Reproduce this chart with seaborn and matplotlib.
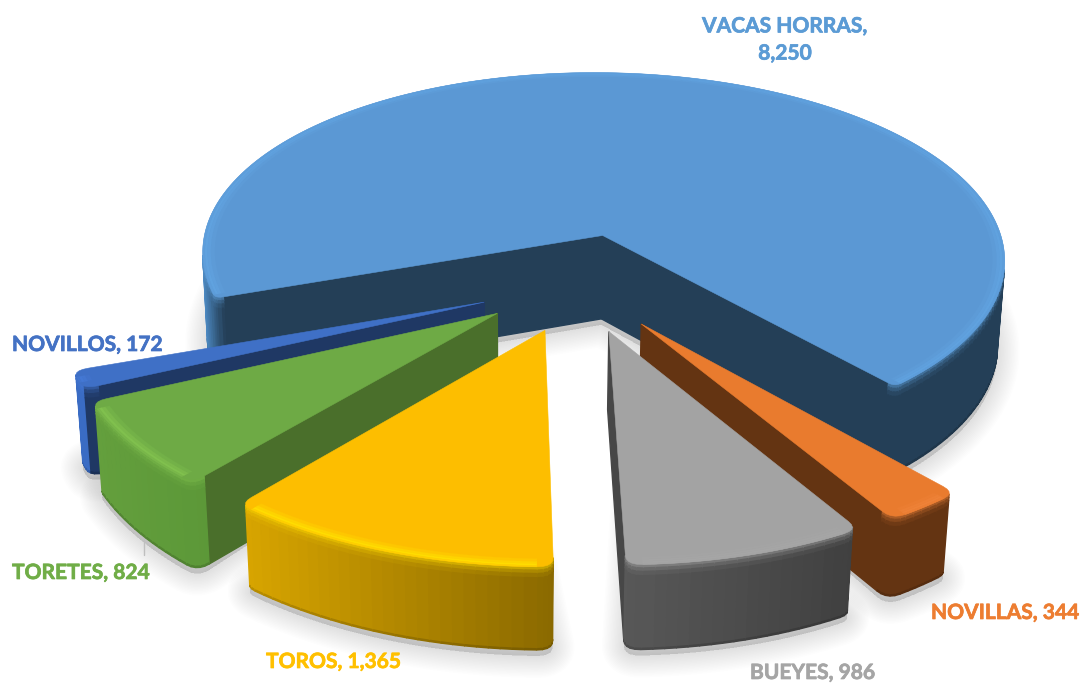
import numpy as np
import pandas as pd
import seaborn as sns
import matplotlib
matplotlib.use("Agg")
import matplotlib.pyplot as plt
import matplotlib.patheffects as pe
from matplotlib.colors import to_rgb
from matplotlib.patches import Polygon

# ---------- data ----------
categories = ["VACAS HORRAS", "NOVILLAS", "BUEYES", "TOROS", "TORETES", "NOVILLOS"]
values = [8250, 344, 986, 1365, 824, 172]
label_colors = ["#5B9BD5", "#ED7D31", "#A5A5A5", "#FFC000", "#70AD47", "#4472C4"]

df = pd.DataFrame({"cat": categories, "val": values})
df["sweep"] = df["val"] / df["val"].sum() * 360.0

# ---------- style ----------
sns.set_theme(style="white")
plt.rcParams["font.family"] = ["Lato", "DejaVu Sans"]
palette = sns.color_palette(label_colors)

STYLE = {
    "VACAS HORRAS": dict(top="#5B98D4", hi="#60A2DF", rad="#243F57", left="#4E8CC6", right="#243F57", sat=0.025, h=0.24, r=1.006, e=0.27, rho=0.02),
    "NOVILLAS": dict(top="#E97B2E", hi="#EE8238", rad="#643412", left="#643412", right="#643412", sat=1, h=0.205, r=1.005, e=0.25, rho=0.035),
    "BUEYES": dict(top="#A3A3A3", hi="#A6A6A6", rad="#474747", left="#585858", right="#404040", sat=1, h=0.215, r=1.008, e=0.25, rho=0.035),
    "TOROS": dict(top="#FDBE00", hi="#FFDC00", rad="#8A6900", left="#D8A500", right="#8A6900", sat=1, h=0.21, r=1.022, e=0.25, rho=0.035),
    "TORETES": dict(top="#6EAA45", hi="#80C04E", rad="#4A6F2B", left="#649F3D", right="#5C9838", sat=1, h=0.23, r=1.016, e=0.25, rho=0.035),
    "NOVILLOS": dict(top="#3F70C6", hi="#4478D4", rad="#1F3864", left="#3A6CC4", right="#1F3864", sat=1, h=0.235, r=1.01, e=0.25, rho=0.035, step=0.42),
}
DRAW_ORDER = ["VACAS HORRAS", "NOVILLAS", "NOVILLOS", "TORETES", "TOROS", "BUEYES"]
START = 199.4
S, C = 0.47, 0.883
DIST, FOCAL = 7.5, 3060.0
PX, X0, Y0 = 520.0, 0.145, 284.0
VACAS_SHIFT = -0.006


def project(X, Y, Z):
    D = DIST + C * Y - S * Z
    return PX + FOCAL * (X + X0) / D, Y0 - FOCAL * (S * Y + C * Z) / D


def mix(a, b, t):
    a, b = np.array(to_rgb(a)), np.array(to_rgb(b))
    return tuple(a + (b - a) * float(np.clip(t, 0, 1)))


def outline(ta, tb, r, rho):
    """World outline of a slice: apex, rounded corner, arc, rounded corner."""
    sweep = np.radians(ta - tb)
    a, b = np.radians(ta), np.radians(tb)
    dl = min(rho / r, sweep * 0.35)
    n = max(6, int(np.degrees(sweep) / 1.5))
    pol = lambda rad, th: (rad * np.cos(th), rad * np.sin(th))
    pts = [(0.0, 0.0)]
    p0, pc, p1 = np.array(pol(r - rho, a)), np.array(pol(r, a)), np.array(pol(r, a - dl))
    for u in np.linspace(0, 1, 6):
        pts.append(tuple((1 - u) ** 2 * p0 + 2 * u * (1 - u) * pc + u ** 2 * p1))
    for th in np.linspace(a - dl, b + dl, n)[1:-1]:
        pts.append(pol(r, th))
    p0, pc, p1 = np.array(pol(r, b + dl)), np.array(pol(r, b)), np.array(pol(r - rho, b))
    for u in np.linspace(0, 1, 6):
        pts.append(tuple((1 - u) ** 2 * p0 + 2 * u * (1 - u) * pc + u ** 2 * p1))
    return np.array(pts), (a - dl, b + dl)


fig = plt.figure(figsize=(10.81, 6.83), dpi=100, facecolor="white")
ax = fig.add_axes([0, 0, 1, 1])
ax.set_xlim(0, 1081)
ax.set_ylim(683, 0)
ax.axis("off")

# geometry per slice
slices = {}
start = START
for cat, sweep in zip(df["cat"], df["sweep"]):
    ta, tb = start, start - sweep
    start = tb
    mid = np.radians((ta + tb) / 2)
    st = STYLE[cat]
    ox, oy = st["e"] * np.cos(mid), st["e"] * np.sin(mid)
    if cat == "VACAS HORRAS":
        ox += VACAS_SHIFT
    pts, arc = outline(ta, tb, st["r"], st["rho"])
    slices[cat] = dict(ox=ox, oy=oy, pts=pts, arc=arc, st=st)

# soft shadow
for cat in DRAW_ORDER:
    g = slices[cat]
    pts = g["pts"].copy()
    pts[0] = pts[len(pts) // 2] * (0.22 if cat != "VACAS HORRAS" else 0.0)
    sx, sy = project(pts[:, 0] + g["ox"], pts[:, 1] + g["oy"], -g["st"]["h"])
    sy = sy + 6
    for lw in np.linspace(1, 44, 16):
        ax.add_patch(Polygon(np.c_[sx, sy], closed=True, facecolor=(0, 0, 0, 0.009),
                             edgecolor=(0, 0, 0, 0.009), lw=lw * 0.72, joinstyle="round", zorder=1))

# leader line, behind the slices
ax.plot([144, 144], [534, 555], color="#BFBFBF", lw=1.0, zorder=1.5)

# slices
z = 2
for cat in DRAW_ORDER:
    g = slices[cat]
    st, pts = g["st"], g["pts"]
    X, Y = pts[:, 0] + g["ox"], pts[:, 1] + g["oy"]
    h = st["h"]
    rho = st["rho"]
    sxt, syt = project(X, Y, 0.0)
    rr = np.hypot(pts[:, 0], pts[:, 1])
    arcx = sxt[rr > st["r"] - rho - 1e-6]
    xmin, xmax = arcx.min(), arcx.max()

    quads = []
    m = len(pts)
    for i in range(m):
        j = (i + 1) % m
        ax_, ay_ = project(X[i], Y[i], 0.0)
        bx_, by_ = project(X[j], Y[j], 0.0)
        cx_, cy_ = project(X[j], Y[j], -h)
        dx_, dy_ = project(X[i], Y[i], -h)
        q = np.array([[ax_, ay_], [bx_, by_], [cx_, cy_], [dx_, dy_]])
        area = 0.5 * np.sum(q[:, 0] * np.roll(q[:, 1], -1) - np.roll(q[:, 0], -1) * q[:, 1])
        if area >= 0:
            continue
        depth = DIST + C * (Y[i] + Y[j]) / 2
        outer = (rr[i] + rr[j]) / 2 > st["r"] - rho * 0.9
        quads.append((depth, i, j, outer))
    quads.sort(key=lambda t: -t[0])

    for depth, i, j, outer in quads:
        xm = (sxt[i] + sxt[j]) / 2
        if outer:
            frac = (xm - xmin) / max(xmax - xmin, 1)
            if "step" in st:
                wall = to_rgb(st["left"] if frac < st["step"] else st["right"])
            else:
                wall = mix(st["left"], st["right"], frac / st["sat"])
            rows = [(0.0, 0.04, 0.5), (0.04, 0.08, 0.25), (0.08, 0.13, 0.08), (0.13, 0.985, 0.0), (0.985, 1.0, -0.15)]
        else:
            wall = to_rgb(st["rad"])
            rows = [(0.0, 1.0, 0.0)]
        for z0, z1, k in rows:
            pa = project(X[i], Y[i], -h * z0)
            pb = project(X[j], Y[j], -h * z0)
            pc = project(X[j], Y[j], -h * z1)
            pd_ = project(X[i], Y[i], -h * z1)
            col = mix(wall, st["hi"], k) if k >= 0 else mix(wall, "#000000", -k)
            ax.add_patch(Polygon([pa, pb, pc, pd_], closed=True, facecolor=col, edgecolor=col, lw=1.0, zorder=z))
    z += 1

    ax.add_patch(Polygon(np.c_[sxt, syt], closed=True, facecolor=st["top"], edgecolor=st["top"], lw=0.4, zorder=z))
    z += 1

    # bevel along the outer arc
    a1, b1 = g["arc"]
    r = st["r"]
    th = np.linspace(a1, b1, max(8, int(np.degrees(a1 - b1) / 1.5)))
    prof = [(0.97, 0.98, 0.3), (0.98, 0.988, 0.7), (0.988, 0.995, 1.0), (0.995, 1.0, 0.6)]
    for r0, r1, k in prof:
        xo = r * r1 * np.cos(th) + g["ox"]
        yo = r * r1 * np.sin(th) + g["oy"]
        xi = r * r0 * np.cos(th) + g["ox"]
        yi = r * r0 * np.sin(th) + g["oy"]
        px1, py1 = project(xo, yo, 0.0)
        px0, py0 = project(xi, yi, 0.0)
        col = mix(st["top"], st["hi"], k)
        ax.add_patch(Polygon(np.r_[np.c_[px1, py1], np.c_[px0, py0][::-1]], closed=True,
                             facecolor=col, edgecolor=col, lw=0.2, zorder=z))
    z += 1

# labels
LABEL_POS = {
    "VACAS HORRAS": (785, 40, "center"),
    "NOVILLAS": (931, 613, "left"),
    "BUEYES": (750, 673, "left"),
    "TOROS": (266, 662, "left"),
    "TORETES": (12, 573, "left"),
    "NOVILLOS": (12, 345, "left"),
}
for cat, val, col in zip(categories, values, palette):
    x, y, ha = LABEL_POS[cat]
    sep = ",\n" if cat == "VACAS HORRAS" else ", "
    t = ax.text(x, y, f"{cat}{sep}{val:,}", color=col, fontsize=15.1, fontweight="bold",
                ha=ha, va="center", linespacing=1.45, zorder=z + 1)
    t.set_path_effects([pe.withStroke(linewidth=0.5, foreground=col)])

fig.savefig("out.png", dpi=100, facecolor="white")
